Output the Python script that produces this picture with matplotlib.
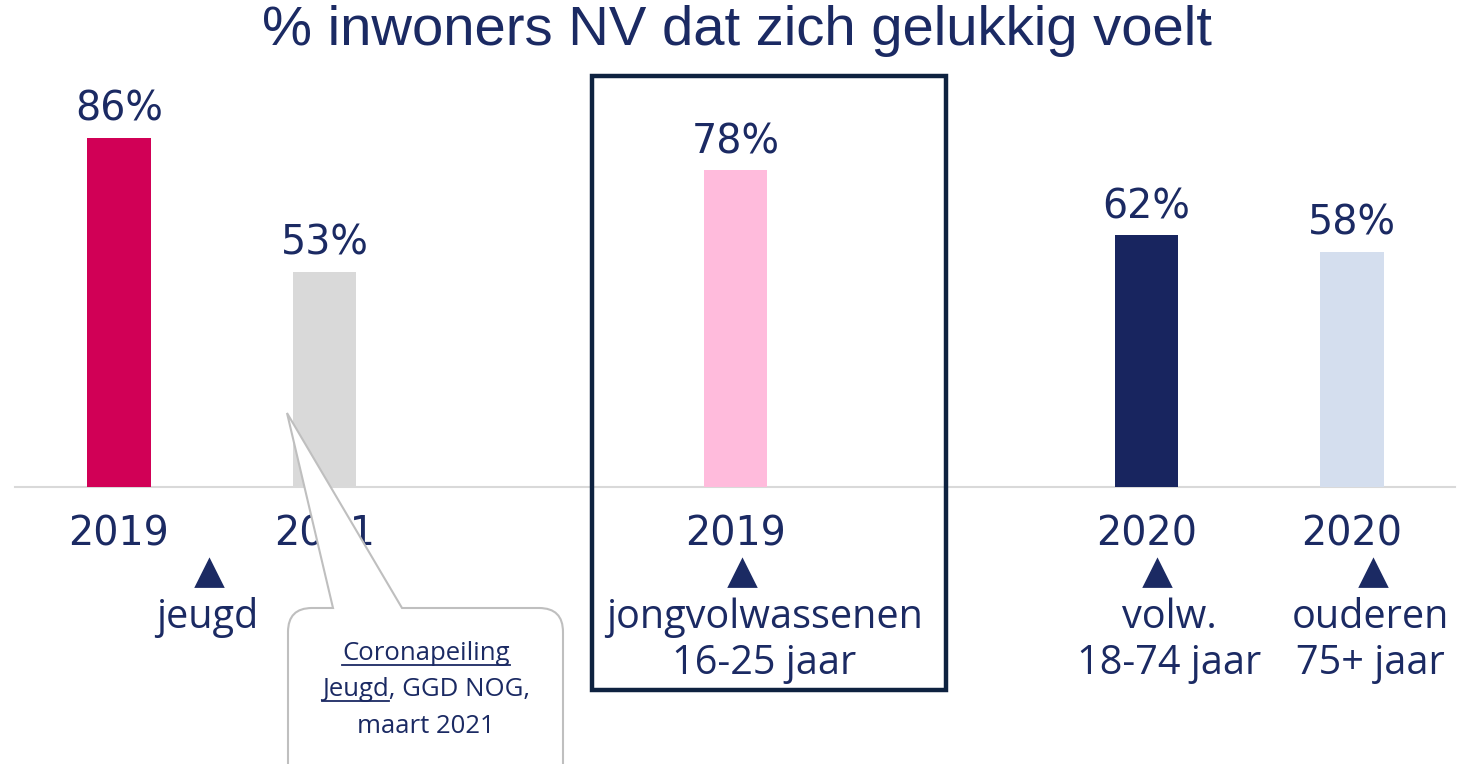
import matplotlib
matplotlib.use("Agg")
import matplotlib.pyplot as plt
from matplotlib.path import Path
from matplotlib.patches import PathPatch, Rectangle
from matplotlib.transforms import Affine2D

# ---- data ----
categories = ["jeugd 2019", "jeugd 2021", "jongvolwassenen 2019", "volw. 2020", "ouderen 2020"]
years = ["2019", "2021", "2019", "2020", "2020"]
values = [86, 53, 78, 62, 58]
positions = [0, 1, 3, 5, 6]
bar_colors = ["#d10056", "#d9d9d9", "#ffbbdc", "#18255f", "#d4deee"]
group_line1 = ["jeugd", "jongvolwassenen", "volw.", "ouderen"]
group_line2 = ["", "16-25 jaar", "18-74 jaar", "75+ jaar"]
arrow_pos = [0.44, 3.03, 5.05, 6.10]
label_pos = [0.43, 3.14, 5.11, 6.09]
title = "% inwoners NV dat zich gelukkig voelt"
note_lines = ["Coronapeiling", "Jeugd, GGD NOG,", "maart 2021"]

NAVY = "#1b2a63"
W, H = 1460, 764
fig = plt.figure(figsize=(W / 100, H / 100), dpi=100)
ax = fig.add_axes([0, 0, 1, 1])
unit = 205.5
x0 = 119
ppu = 4.06
base = 487
ax.set_xlim(-x0 / unit, (W - x0) / unit)
ax.set_ylim(-(H - base) / ppu, base / ppu)
ax.axis("off")

# pixel transform (top-left origin)
pix = Affine2D().scale(1 / W, -1 / H).translate(0, 1) + fig.transFigure

ax.bar(positions, values, width=0.31, color=bar_colors, zorder=2)
ax.plot([(15 - x0) / unit, (1455 - x0) / unit], [0, 0], color="#d9d9d9", lw=1.5, zorder=1)

for p, v in zip(positions, values):
    ax.text(p, v + 4.2, f"{v}%", ha="center", va="baseline", fontsize=28.5,
            color=NAVY, family="DejaVu Sans")
for p, yl in zip(positions, years):
    ax.text(p, -14.5, yl, ha="center", va="baseline", fontsize=28.5,
            color=NAVY, family="DejaVu Sans")

ax.plot(arrow_pos, [-21.2] * len(arrow_pos), linestyle="none", marker="^",
        markersize=19, color=NAVY, markeredgewidth=2, markeredgecolor=NAVY,
        zorder=3)
for gx, l1, l2 in zip(label_pos, group_line1, group_line2):
    ax.text(gx, -34.7, l1, ha="center", va="baseline", fontsize=28.5, color=NAVY,
            family="Open Sans")
    if l2:
        ax.text(gx, -46.0, l2, ha="center", va="baseline", fontsize=28.5, color=NAVY,
                family="Open Sans")

fig.text(736.5 / W, 1 - 45 / H, title, ha="center", va="baseline", fontsize=40.5,
         color=NAVY, family="Liberation Sans")

# highlight box
fig.patches.append(Rectangle((592, 76), 354, 614, transform=pix, fill=False,
                             edgecolor="#0e2240", lw=3.2, zorder=5))

# callout
r = 24
L, R, T, B = 288, 563, 608, 800
verts = [(333, T), (287, 413), (402, T), (R - r, T), (R, T), (R, T + r), (R, B),
         (L, B), (L, T + r), (L, T), (L + r, T), (333, T)]
codes = [Path.MOVETO, Path.LINETO, Path.LINETO, Path.LINETO, Path.CURVE3, Path.CURVE3,
         Path.LINETO, Path.LINETO, Path.LINETO, Path.CURVE3, Path.CURVE3, Path.CLOSEPOLY]
fig.patches.append(PathPatch(Path(verts, codes), transform=pix, facecolor="white",
                             edgecolor="#bfbfbf", lw=1.5, zorder=6))

NFS = 18.5
ty = [660, 696, 733]
texts = []
for yy, line in zip(ty, note_lines):
    t = fig.text(426 / W, 1 - yy / H, line, ha="center", va="baseline", fontsize=NFS,
                 color=NAVY, family="Open Sans", zorder=7)
    texts.append(t)

fig.canvas.draw()
rend = fig.canvas.get_renderer()
inv = fig.transFigure.inverted()
bb0 = texts[0].get_window_extent(rend)
bb1 = texts[1].get_window_extent(rend)
probe = fig.text(0, 0, "Jeugd", fontsize=NFS, family="Open Sans")
wj = probe.get_window_extent(rend).width
probe.remove()
for yy, (xa, xb) in [(ty[0] + 5, (bb0.x0, bb0.x1)), (ty[1] + 5, (bb1.x0, bb1.x0 + wj))]:
    yb = H - yy
    (fx0, fy), (fx1, _) = inv.transform([(xa, yb), (xb, yb)])
    fig.add_artist(plt.Line2D([fx0, fx1], [fy, fy], transform=fig.transFigure,
                              color=NAVY, lw=1.3, zorder=7))

fig.savefig("out.png", dpi=100, facecolor="white")
